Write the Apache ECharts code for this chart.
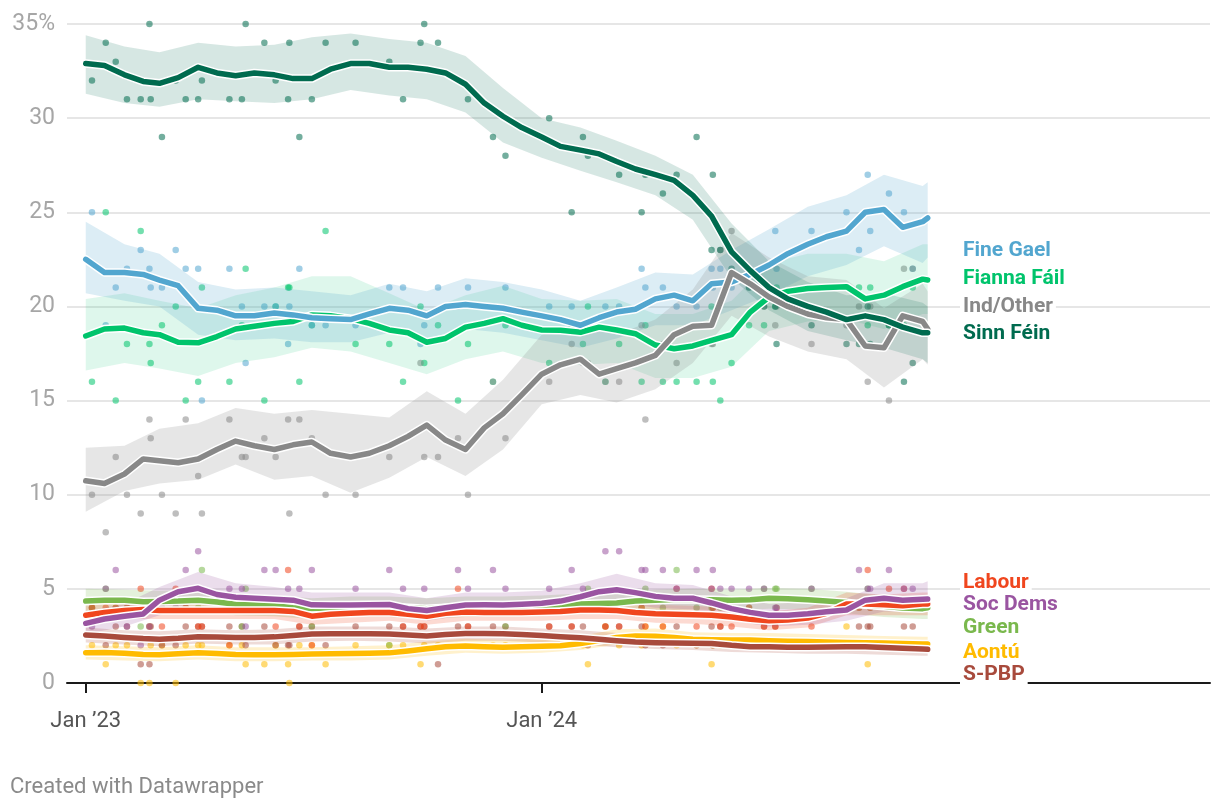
<!DOCTYPE html>
<html><head><meta charset="utf-8">
<script src="https://cdn.jsdelivr.net/npm/echarts@6/dist/echarts.min.js"></script>
<style>html,body{margin:0;padding:0;background:#fff}#c{width:1220px;height:810px}</style>
</head><body><div id="c"></div>
<script>
// ---------- DATA ----------
const trendDates = ['2023-01-01','2023-01-16','2023-02-01','2023-02-16','2023-03-01','2023-03-16','2023-04-01','2023-04-16','2023-05-01','2023-05-16','2023-06-01','2023-06-16','2023-07-01','2023-07-16','2023-08-01','2023-08-16','2023-09-01','2023-09-16','2023-10-01','2023-10-16','2023-11-01','2023-11-16','2023-12-01','2023-12-16','2024-01-01','2024-01-16','2024-02-01','2024-02-16','2024-03-01','2024-03-16','2024-04-01','2024-04-16','2024-05-01','2024-05-16','2024-06-01','2024-06-16','2024-07-01','2024-07-16','2024-08-01','2024-08-16','2024-09-01','2024-09-16','2024-10-01','2024-10-16','2024-11-01','2024-11-05'];
const bandDates = ['2023-01-01','2023-02-01','2023-03-01','2023-04-01','2023-05-01','2023-06-01','2023-07-01','2023-08-01','2023-09-01','2023-10-01','2023-11-01','2023-12-01','2024-01-01','2024-02-01','2024-03-01','2024-04-01','2024-05-01','2024-06-01','2024-07-01','2024-08-01','2024-09-01','2024-10-01','2024-11-01','2024-11-05'];
const pollDates = ['2023-01-06','2023-01-17','2023-01-25','2023-02-03','2023-02-14','2023-02-21','2023-02-22','2023-03-03','2023-03-14','2023-03-22','2023-04-01','2023-04-04','2023-04-26','2023-05-06','2023-05-09','2023-05-24','2023-06-02','2023-06-12','2023-06-13','2023-06-21','2023-07-01','2023-07-12','2023-08-05','2023-09-01','2023-09-12','2023-09-26','2023-09-29','2023-10-10','2023-10-26','2023-11-03','2023-11-23','2023-12-03','2024-01-07','2024-01-25','2024-02-03','2024-02-07','2024-02-21','2024-03-03','2024-03-21','2024-03-24','2024-04-07','2024-04-18','2024-05-04','2024-05-16','2024-05-17','2024-05-23','2024-06-01','2024-06-15','2024-06-27','2024-07-06','2024-07-07','2024-08-04','2024-09-01','2024-09-11','2024-09-18','2024-09-20','2024-10-05','2024-10-17','2024-10-24'];

const sfTrend = [32.9,32.8,32.3,31.95,31.85,32.15,32.7,32.4,32.25,32.4,32.3,32.1,32.1,32.6,32.9,32.9,32.7,32.7,32.6,32.4,31.8,30.8,30.1,29.5,29.0,28.5,28.3,28.1,27.7,27.3,27.0,26.7,25.9,24.8,22.9,21.9,21.0,20.4,20.0,19.7,19.3,19.5,19.3,18.9,18.6,18.6];
const fgTrend = [22.5,21.8,21.8,21.7,21.4,21.1,19.9,19.8,19.5,19.5,19.65,19.55,19.4,19.35,19.3,19.6,19.9,19.8,19.5,20.0,20.1,20.0,19.9,19.7,19.5,19.3,19.0,19.4,19.7,19.85,20.4,20.6,20.3,21.2,21.3,21.7,22.2,22.8,23.3,23.7,24.0,25.0,25.15,24.2,24.5,24.7];
const ffTrend = [18.43,18.8,18.85,18.6,18.5,18.1,18.07,18.4,18.8,18.95,19.1,19.2,19.55,19.5,19.35,19.1,18.75,18.6,18.1,18.3,18.9,19.1,19.35,19.0,18.75,18.73,18.63,18.9,18.75,18.55,17.95,17.75,17.9,18.2,18.5,19.7,20.5,20.8,20.95,21.0,21.05,20.4,20.6,21.05,21.45,21.4];
const indTrend = [10.74,10.6,11.1,11.9,11.8,11.7,11.9,12.4,12.85,12.6,12.4,12.65,12.8,12.2,12.0,12.2,12.6,13.1,13.7,12.9,12.4,13.55,14.3,15.3,16.4,16.9,17.2,16.4,16.7,17.0,17.4,18.5,18.95,19.0,21.8,21.2,20.5,20.0,19.6,19.4,19.3,17.9,17.8,19.5,19.2,18.8];
const labTrend = [3.6,3.75,3.85,3.9,3.85,3.85,3.85,3.85,3.85,3.85,3.85,3.8,3.55,3.65,3.7,3.75,3.75,3.65,3.55,3.7,3.77,3.75,3.75,3.75,3.77,3.8,3.88,3.88,3.85,3.75,3.68,3.65,3.62,3.6,3.5,3.38,3.3,3.35,3.45,3.7,4.2,4.2,4.15,4.1,4.2,4.2];
const sdTrend = [3.17,3.4,3.55,3.67,4.4,4.85,5.03,4.7,4.55,4.5,4.45,4.4,4.15,4.14,4.14,4.15,4.17,3.95,3.85,4.0,4.14,4.15,4.14,4.18,4.24,4.35,4.58,4.85,4.95,4.8,4.6,4.5,4.5,4.25,3.95,3.75,3.6,3.6,3.68,3.78,3.88,4.4,4.5,4.4,4.45,4.46];
const grnTrend = [4.35,4.4,4.4,4.32,4.33,4.35,4.4,4.3,4.18,4.15,4.1,4.0,3.95,4.0,4.05,4.05,4.05,4.0,3.95,4.0,4.05,4.05,4.05,4.05,4.1,4.15,4.2,4.22,4.25,4.35,4.4,4.44,4.44,4.42,4.4,4.42,4.5,4.48,4.42,4.35,4.27,4.15,4.08,3.98,3.95,4.0];
const aonTrend = [1.61,1.62,1.58,1.52,1.5,1.55,1.61,1.57,1.52,1.5,1.5,1.52,1.54,1.55,1.57,1.58,1.6,1.7,1.82,1.92,1.96,1.92,1.9,1.92,1.95,1.98,2.1,2.25,2.42,2.5,2.48,2.42,2.32,2.3,2.28,2.28,2.25,2.22,2.2,2.18,2.15,2.14,2.12,2.1,2.07,2.07];
const spbpTrend = [2.55,2.5,2.42,2.36,2.33,2.38,2.46,2.44,2.42,2.42,2.45,2.52,2.6,2.62,2.62,2.61,2.6,2.55,2.5,2.57,2.63,2.63,2.62,2.58,2.52,2.46,2.4,2.32,2.25,2.18,2.14,2.12,2.11,2.1,2.0,1.93,1.92,1.9,1.9,1.91,1.92,1.93,1.88,1.84,1.8,1.79];

const sfLow  = [31.3,30.8,30.6,31.0,30.9,30.8,31.0,31.5,31.2,31.0,30.3,28.7,27.9,27.2,26.6,25.9,24.6,21.5,19.8,18.7,18.2,17.8,17.2,17.0];
const sfHigh = [34.4,33.8,33.5,34.0,33.8,33.9,34.3,34.5,34.2,34.0,33.3,31.6,30.0,29.5,28.8,28.0,27.0,24.4,22.4,21.3,20.6,20.7,20.2,20.0];
const fgLow  = [20.7,20.3,20.0,18.5,18.2,18.3,18.1,18.1,18.6,18.3,18.8,18.6,18.2,17.8,18.3,19.0,19.0,19.8,20.6,21.6,22.2,23.2,22.3,22.6];
const fgHigh = [24.5,23.3,22.8,21.3,20.9,21.0,20.8,20.6,21.2,20.8,21.5,21.3,20.9,20.3,21.0,21.8,21.7,23.0,24.1,25.3,25.9,27.0,26.4,26.6];
const ffLow  = [16.6,17.0,16.7,16.3,17.0,17.3,17.8,17.6,17.0,16.4,17.2,17.6,17.0,16.9,17.0,16.2,16.2,16.8,18.7,19.2,19.3,18.8,19.6,19.6];
const ffHigh = [20.4,20.7,20.3,19.9,20.6,21.0,21.6,21.6,20.7,19.8,20.6,21.1,20.4,20.3,20.4,19.6,19.6,20.3,22.3,22.8,22.8,22.4,23.3,23.3];
const indLow  = [9.1,10.2,10.6,10.8,11.6,10.8,11.0,10.1,10.9,12.0,11.0,12.4,14.8,15.3,14.9,15.6,17.0,19.5,18.4,17.6,17.2,15.7,17.2,16.9];
const indHigh = [12.5,12.6,13.5,13.8,14.6,14.3,14.5,14.3,14.1,15.5,14.3,16.1,18.5,19.1,18.5,19.3,20.9,23.9,22.6,21.6,21.4,19.9,21.2,20.8];
const labLow  = [3.1,3.4,3.4,3.4,3.4,3.4,3.1,3.2,3.3,3.1,3.3,3.3,3.3,3.4,3.4,3.2,3.15,3.0,2.8,2.95,3.6,3.6,3.6,3.6];
const labHigh = [4.1,4.3,4.3,4.3,4.3,4.3,4.0,4.2,4.2,4.0,4.25,4.2,4.25,4.35,4.3,4.15,4.1,4.0,3.8,4.0,4.8,4.7,4.8,4.8];
const sdLow  = [2.6,3.0,3.6,4.3,3.9,3.9,3.6,3.6,3.6,3.3,3.6,3.6,3.7,4.0,4.3,4.0,3.9,3.3,3.0,3.1,3.3,3.8,3.8,3.8];
const sdHigh = [3.8,4.2,5.1,5.9,5.3,5.1,4.8,4.8,4.8,4.5,4.8,4.8,4.9,5.3,5.8,5.3,5.2,4.6,4.2,4.3,4.5,5.3,5.3,5.4];
const grnLow  = [3.8,3.85,3.8,3.85,3.6,3.55,3.4,3.5,3.5,3.4,3.5,3.5,3.55,3.65,3.7,3.85,3.9,3.85,3.95,3.9,3.7,3.5,3.4,3.4];
const grnHigh = [5.0,4.95,4.9,4.95,4.75,4.65,4.5,4.6,4.6,4.5,4.6,4.6,4.65,4.75,4.8,4.95,5.0,4.95,5.05,5.0,4.85,4.65,4.55,4.6];
const aonLow  = [1.25,1.2,1.15,1.25,1.15,1.15,1.2,1.2,1.25,1.45,1.6,1.55,1.6,1.75,2.05,2.1,1.95,1.9,1.9,1.85,1.8,1.75,1.7,1.7];
const aonHigh = [2.0,1.95,1.9,2.0,1.9,1.9,1.9,1.95,2.0,2.2,2.35,2.3,2.35,2.5,2.85,2.9,2.7,2.65,2.65,2.6,2.55,2.5,2.45,2.45];
const spbpLow  = [2.15,2.05,1.95,2.1,2.05,2.05,2.2,2.25,2.2,2.1,2.25,2.25,2.15,2.05,1.9,1.8,1.75,1.65,1.6,1.55,1.55,1.5,1.45,1.45];
const spbpHigh = [2.95,2.8,2.75,2.85,2.8,2.85,3.0,3.0,3.0,2.9,3.0,3.0,2.9,2.8,2.65,2.5,2.5,2.4,2.3,2.3,2.3,2.25,2.2,2.2];

const sfPolls  = [32,34,33,31,31,35,31,29,32,31,31,32,31,31,35,34,32,31,34,29,31,34,34,33,31,34,35,34,32,31,29,28,30,25,29,28,28,27,25,27,26,27,29,23,27,23,22,21,20,20,18,19,18,18,20,18,19,16,17];
const fgPolls  = [25,19,21,22,23,22,21,21,23,22,22,15,22,20,17,20,20,18,20,22,19,19,19,21,21,18,19,21,20,21,20,21,20,20,19,19,20,20,22,21,21,20,20,22,21,22,21,22,22,24,22,24,25,23,27,24,26,25,22];
const ffPolls  = [16,25,15,18,24,18,17,19,20,15,16,21,16,19,22,15,20,21,21,16,19,24,18,18,16,20,17,19,15,18,16,19,17,19,18,20,16,18,16,19,16,16,16,20,16,15,17,19,19,20,21,21,21,21,19,21,19,19,21];
const indPolls = [10,8,12,10,9,14,13,10,9,14,11,9,14,12,12,13,12,14,9,14,13,10,10,12,13,17,12,12,13,10,16,13,16,18,17,17,16,16,19,14,18,17,18,18,18,23,24,21,20,19,20,18,19,20,16,20,15,22,22];
const labPolls = [4,4,4,4,5,3,4,3,5,4,3,3,2,4,4,4,3,6,4,3,2,4,4,4,3,3,3,4,5,3,4,4,3,3,4,4,3,3,4,3,3,5,3,5,4,3,3,4,3,3,4,3,4,4,6,4,5,5,4];
const sdPolls  = [3,5,6,3,2,3,4,4,4,6,7,5,5,5,3,6,6,5,4,5,6,4,5,6,5,4,5,4,6,5,6,5,5,6,5,4,7,7,6,6,6,5,6,5,6,5,5,5,5,4,4,5,4,6,5,5,6,5,5];
const grnPolls = [4,5,4,4,3,3,4,4,4,4,4,6,4,3,5,4,4,4,4,4,3,4,4,2,4,4,4,4,4,4,4,3,4,4,4,5,4,4,4,5,4,6,4,4,4,4,4,4,5,5,5,5,4,4,5,4,4,4,4];
const aonPolls = [2,1,2,2,0,0,2,2,0,2,2,2,2,2,1,1,2,1,0,2,2,1,2,2,2,1,2,2,2,2,2,2,2,2,2,1,3,2,2,3,3,2,2,1,2,2,2,2,2,2,2,2,3,2,1,2,2,2,2];
const spbpPolls = [4,2,3,3,1,1,3,2,2,3,3,3,3,3,2,3,2,2,2,3,3,2,3,3,3,3,3,1,3,3,3,3,3,3,3,2,3,3,3,2,2,3,2,3,2,3,2,2,3,3,2,2,2,3,3,3,2,3,3];

const yTicks = [0,5,10,15,20,25,30,35];
const xTickDates = ['2023-01-01','2024-01-01'];
const xRange = ['2022-12-17','2025-06-19'];

// ---------- STYLE ----------
const parties = [
  {name:'Aontú',       color:'#ffbb00', trend:aonTrend,  low:aonLow,  high:aonHigh,  polls:aonPolls,  band:0.2,  lbl:652.5},
  {name:'S-PBP',       color:'#a84a3c', trend:spbpTrend, low:spbpLow, high:spbpHigh, polls:spbpPolls, band:0.2,  lbl:674.5},
  {name:'Green',       color:'#7ab84d', trend:grnTrend,  low:grnLow,  high:grnHigh,  polls:grnPolls,  band:0.2,  lbl:628},
  {name:'Labour',      color:'#f0461e', trend:labTrend,  low:labLow,  high:labHigh,  polls:labPolls,  band:0.2,  lbl:583},
  {name:'Soc Dems',    color:'#9a55a1', trend:sdTrend,   low:sdLow,   high:sdHigh,   polls:sdPolls,   band:0.2,  lbl:604.5},
  {name:'Fianna Fáil', color:'#00c46c', trend:ffTrend,   low:ffLow,   high:ffHigh,   polls:ffPolls,   band:0.13, lbl:279},
  {name:'Fine Gael',   color:'#52a6cf', trend:fgTrend,   low:fgLow,   high:fgHigh,   polls:fgPolls,   band:0.2,  lbl:250.5},
  {name:'Ind/Other',   color:'#888888', trend:indTrend,  low:indLow,  high:indHigh,  polls:indPolls,  band:0.21, lbl:306.5},
  {name:'Sinn Féin',   color:'#006b4f', trend:sfTrend,   low:sfLow,   high:sfHigh,   polls:sfPolls,   band:0.16, lbl:334}
];

function ts(s){ const p = s.split('-').map(Number); return Date.UTC(p[0], p[1]-1, p[2]); }
const FONT = 'Roboto, "Noto Sans", sans-serif';

const series = [];
parties.forEach(p => {
  series.push({type:'scatter', z:1, silent:true, symbolSize:6.5,
    itemStyle:{color:p.color, opacity:0.55},
    data: pollDates.map((d,i)=>[ts(d), p.polls[i]])});
});
parties.forEach(p => {
  series.push({type:'custom', z:2, silent:true, coordinateSystem:'cartesian2d',
    data: bandDates.map((d,i)=>[ts(d), p.low[i], p.high[i]]),
    encode:{x:0, y:[1,2]},
    renderItem:(params, api) => {
      if (params.dataIndex !== 0) return null;
      const pts = [];
      for (let i = 0; i < bandDates.length; i++) pts.push(api.coord([ts(bandDates[i]), p.high[i]]));
      for (let i = bandDates.length - 1; i >= 0; i--) pts.push(api.coord([ts(bandDates[i]), p.low[i]]));
      return {type:'polygon', shape:{points:pts}, style:{fill:p.color, opacity:p.band}};
    }});
});
parties.forEach(p => {
  const data = trendDates.map((d,i)=>[ts(d), p.trend[i]]);
  series.push({type:'line', z:3, silent:true, symbol:'none', showSymbol:false,
    lineStyle:{color:'#ffffff', width:8.5, cap:'round', join:'round'}, data});
  series.push({type:'line', z:3, silent:true, symbol:'none', showSymbol:false,
    lineStyle:{color:p.color, width:5.5, cap:'round', join:'round'}, data});
});

const graphics = parties.map(p => ({
  type:'text', x:960, y:p.lbl, z:100,
  style:{text:p.name, fill:p.color, font:'bold 21px ' + FONT, textAlign:'left', textVerticalAlign:'middle',
    backgroundColor:'#ffffff', padding:[1,3,1,3]}
}));
graphics.push({type:'text', x:10, y:787, z:100,
  style:{text:'Created with Datawrapper', fill:'#8a8a8a', font:'22px ' + FONT, textAlign:'left', textVerticalAlign:'middle'}});

const chart = echarts.init(document.getElementById('c'), null, {renderer:'canvas'});
chart.setOption({
  animation:false,
  backgroundColor:'#ffffff',
  grid:{left:67, right:10, top:24, bottom:127, containLabel:false},
  xAxis:{
    type:'value', min:ts(xRange[0]), max:ts(xRange[1]), scale:true,
    axisLine:{show:true, lineStyle:{color:'#1a1a1a', width:2}},
    axisTick:{show:true, customValues:xTickDates.map(ts), length:10, lineStyle:{color:'#1a1a1a', width:2}},
    axisLabel:{customValues:xTickDates.map(ts), color:'#555555', fontSize:22, fontFamily:FONT, margin:27,
      formatter: v => 'Jan \u2019' + String(new Date(v).getUTCFullYear()).slice(2)},
    splitLine:{show:false}
  },
  yAxis:{
    type:'value', min:yTicks[0], max:yTicks[yTicks.length-1], interval:5,
    axisLine:{show:false}, axisTick:{show:false},
    splitLine:{lineStyle:{color:'#e6e6e6', width:2}},
    axisLabel:{color:'#a6a6a6', fontSize:23, fontFamily:FONT, margin:12,
      formatter: v => v === 35 ? '35%' : String(v)}
  },
  series,
  graphic:{elements:graphics}
});
</script>
</body></html>
